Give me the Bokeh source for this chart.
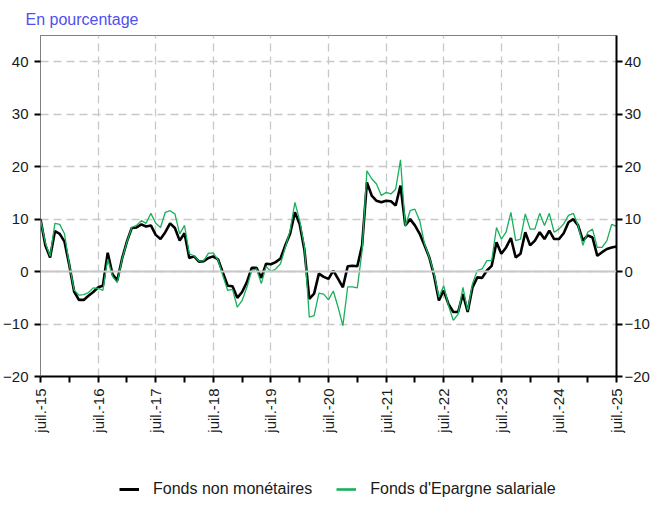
import math
from bokeh.plotting import figure
from bokeh.layouts import column
from bokeh.models import (FixedTicker, LinearAxis, Span, Legend, LegendItem,
                          ColumnDataSource, Range1d, Title)
from bokeh.embed import file_html
from bokeh.resources import INLINE

# ---------------- data (monthly, juil. 2015 -> juil. 2025) ----------------
fonds_non_monetaires = [
    10.0, 5.0, 2.7, 7.7, 7.2, 5.7, 1.2, -3.8, -5.4, -5.4, -4.6, -3.9,
    -3.0, -2.7, 3.6, -0.5, -1.7, 2.5, 5.7, 8.3, 8.4, 9.0, 8.6, 8.8,
    7.0, 6.2, 7.5, 9.2, 8.3, 5.9, 7.3, 2.6, 2.9, 1.9, 2.0, 2.6,
    2.9, 2.3, -0.2, -2.7, -2.8, -5.0, -3.9, -2.0, 0.7, 0.7, -1.2, 1.5,
    1.4, 1.8, 2.5, 5.0, 7.2, 11.3, 9.0, 4.0, -5.2, -4.2, -0.4, -1.0,
    -1.4, 0.2, -1.4, -3.0, 1.0, 1.1, 1.0, 5.0, 17.0, 14.5, 13.5, 13.2,
    13.5, 13.4, 12.6, 16.4, 8.8, 10.0, 8.8, 7.2, 5.0, 2.7, -0.8, -5.5,
    -3.6, -6.2, -7.7, -7.7, -4.3, -7.7, -3.0, -1.1, -1.2, 0.2, 1.1, 5.6,
    3.4, 4.6, 6.4, 2.7, 3.4, 7.5, 5.0, 5.9, 7.5, 6.2, 7.8, 6.2,
    6.2, 7.3, 9.4, 10.0, 8.8, 5.9, 6.9, 6.5, 3.0, 3.7, 4.3, 4.6,
    4.8,
]
fonds_epargne_salariale = [
    10.0, 5.5, 2.9, 9.2, 9.0, 7.2, 1.3, -3.5, -4.5, -4.4, -4.0, -3.1,
    -3.2, -3.6, 2.4, -0.9, -2.1, 2.4, 5.6, 8.4, 8.8, 9.7, 9.2, 11.1,
    9.2, 8.4, 11.3, 11.6, 11.0, 7.2, 8.8, 3.4, 3.0, 2.0, 2.1, 3.5,
    3.5, 2.2, -0.8, -3.6, -3.4, -6.8, -5.5, -3.0, 0.2, 0.5, -2.3, 1.0,
    0.0, 0.5, 1.5, 4.6, 7.8, 13.2, 9.7, 4.6, -8.7, -8.4, -4.1, -4.3,
    -5.4, -3.7, -6.8, -10.3, -2.9, -2.9, -3.1, 4.0, 19.2, 17.7, 16.7, 14.5,
    15.1, 14.8, 15.7, 21.3, 8.6, 11.6, 11.9, 9.7, 5.3, 2.7, -0.4, -4.9,
    -2.7, -6.5, -9.3, -8.1, -3.0, -7.4, -2.3, 0.2, 0.5, 2.1, 2.1, 8.4,
    6.2, 7.5, 11.3, 5.9, 6.2, 11.0, 8.1, 8.1, 11.1, 8.8, 11.1, 7.5,
    8.1, 9.1, 10.7, 11.1, 8.8, 5.0, 7.5, 8.1, 4.6, 4.6, 5.9, 9.0,
    8.6,
]
months = list(range(len(fonds_non_monetaires)))
tick_labels = ["juil.-15", "juil.-16", "juil.-17", "juil.-18", "juil.-19",
               "juil.-20", "juil.-21", "juil.-22", "juil.-23", "juil.-24",
               "juil.-25"]
y_ticks = [-20, -10, 0, 10, 20, 30, 40]
series_names = ["Fonds non monétaires", "Fonds d'Epargne salariale"]

BLACK = "#000000"
GREEN = "#1AAF5D"
GRID = "#C8C8C8"
FONT = "Liberation Sans"
W = 647

src = ColumnDataSource(dict(x=months, a=fonds_non_monetaires,
                            b=fonds_epargne_salariale))

p = figure(frame_width=576, height=466, output_backend="svg",
           toolbar_location=None,
           x_range=Range1d(0, 120), y_range=Range1d(-20, 45),
           min_border_left=34, min_border_right=0, min_border_top=27,
           min_border_bottom=90)
p.background_fill_color = "white"
p.border_fill_color = "white"
p.outline_line_color = "#808080"
p.outline_line_width = 1

major_x = [12 * i for i in range(len(tick_labels))]
minor_x = [6 + 12 * i for i in range(len(tick_labels) - 1)]

# title
t = Title(text="En pourcentage", align="left", text_color="#5050F0",
          text_font=FONT, text_font_size="16px", text_font_style="normal",
          offset=-15, standoff=16)
p.add_layout(t, "above")

# axes
xa = p.xaxis[0]
xa.ticker = FixedTicker(ticks=major_x, minor_ticks=minor_x)
xa.major_label_overrides = {m: lab for m, lab in zip(major_x, tick_labels)}
xa.major_label_orientation = math.pi / 2
xa.axis_line_color = BLACK
xa.axis_line_width = 2
xa.major_tick_line_color = BLACK
xa.major_tick_line_width = 2
xa.major_tick_out = 6
xa.major_tick_in = 0
xa.minor_tick_line_color = BLACK
xa.minor_tick_line_width = 2
xa.minor_tick_out = 6
xa.minor_tick_in = 0
xa.major_label_text_font = FONT
xa.major_label_text_font_size = "15px"
xa.major_label_text_color = "#1A1A1A"
xa.major_label_standoff = 6

ya = p.yaxis[0]
ya.ticker = FixedTicker(ticks=y_ticks)
ya.axis_line_color = "#808080"
ya.axis_line_width = 1
ya.major_tick_line_color = BLACK
ya.major_tick_line_width = 2
ya.major_tick_out = 6
ya.major_tick_in = 0
ya.minor_tick_line_color = None
ya.major_label_text_font = FONT
ya.major_label_text_font_size = "15px"
ya.major_label_text_color = "#1A1A1A"
ya.major_label_standoff = 6

ra = LinearAxis(ticker=FixedTicker(ticks=y_ticks))
ra.axis_line_color = BLACK
ra.axis_line_width = 2
ra.major_tick_line_color = BLACK
ra.major_tick_line_width = 2
ra.major_tick_out = 6
ra.major_tick_in = 0
ra.minor_tick_line_color = None
ra.major_label_text_font = FONT
ra.major_label_text_font_size = "15px"
ra.major_label_text_color = "#1A1A1A"
ra.major_label_standoff = 2
p.add_layout(ra, "right")

# grids
p.xgrid.ticker = FixedTicker(ticks=major_x)
p.ygrid.ticker = FixedTicker(ticks=y_ticks)
for g in (p.xgrid[0], p.ygrid[0]):
    g.grid_line_color = GRID
    g.grid_line_dash = "8 5"
    g.grid_line_width = 1.3
p.add_layout(Span(location=0, dimension="width", line_color=GRID,
                  line_width=2))

# series
p.line("x", "a", source=src, line_color=BLACK, line_width=2.6)
p.line("x", "b", source=src, line_color=GREEN, line_width=1.3)

# legend strip (separate figure placed under the chart)
lg = figure(width=W, height=32, output_backend="svg", toolbar_location=None,
            x_range=Range1d(0, 1), y_range=Range1d(0, 1),
            x_axis_location=None, y_axis_location=None,
            min_border_left=0, min_border_right=0, min_border_top=0,
            min_border_bottom=0)
lg.grid.visible = False
lg.outline_line_color = None
lg.background_fill_color = "white"
lg.border_fill_color = "white"
# samples only: their points lie outside the strip's visible range
off = ColumnDataSource(dict(x=[-5, -4], y=[-5, -5]))
la = lg.line("x", "y", source=off, line_color=BLACK, line_width=3)
lb = lg.line("x", "y", source=off, line_color=GREEN, line_width=2.6)
legend = Legend(items=[LegendItem(label=series_names[0], renderers=[la]),
                       LegendItem(label=series_names[1], renderers=[lb])],
                orientation="horizontal", location=(79, 0),
                border_line_color=None, background_fill_alpha=0,
                label_text_font=FONT, label_text_font_size="16px",
                label_text_color="#1A1A1A", glyph_width=20, glyph_height=18,
                label_height=18, label_standoff=14, spacing=24, padding=3,
                margin=0)
lg.add_layout(legend, "center")

layout = column(p, lg, spacing=0)
open("out.html", "w").write(file_html(layout, INLINE))
